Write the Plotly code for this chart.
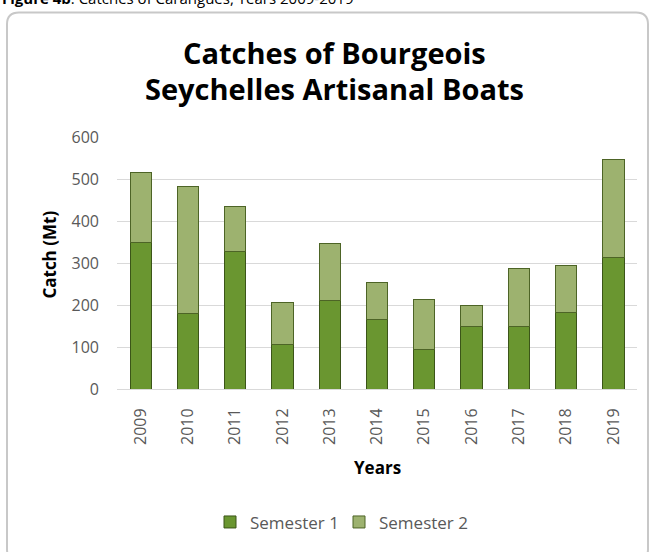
import plotly.graph_objects as go

years = ["2009", "2010", "2011", "2012", "2013", "2014", "2015", "2016", "2017", "2018", "2019"]
semester1 = [348, 180, 328, 106, 211, 165, 94, 149, 149, 182, 314]
totals = [515, 482, 435, 207, 347, 254, 214, 198, 288, 294, 547]
semester2 = [t - s for t, s in zip(totals, semester1)]

title_lines = ["Catches of Bourgeois", "Seychelles Artisanal Boats"]
caption_text = "<b>Figure 4b</b>: Catches of Carangues, Years 2009-2019"
y_title = "Catch (Mt)"
x_title = "Years"

fig = go.Figure()
fig.add_trace(go.Bar(
    x=years, y=semester1, name="Semester 1",
    marker=dict(color="#6a9630", line=dict(color="#3b5518", width=1)),
))
fig.add_trace(go.Bar(
    x=years, y=semester2, name="Semester 2",
    marker=dict(color="#9db26f", line=dict(color="#4d6426", width=1)),
))

L, R, T, B = 117, 16, 137, 160
W, H = 653, 552
pw, ph = W - L - R, H - T - B

def px_x(p):
    return (p - L) / pw

def px_y(p):
    return (H - B - p) / ph

# rounded frame path in paper coordinates
x0, x1, y0, y1, r = 7, 648, 11, 566, 12
pts = [
    ("M", [(x0 + r, y0)]),
    ("L", [(x1 - r, y0)]),
    ("Q", [(x1, y0), (x1, y0 + r)]),
    ("L", [(x1, y1 - r)]),
    ("Q", [(x1, y1), (x1 - r, y1)]),
    ("L", [(x0 + r, y1)]),
    ("Q", [(x0, y1), (x0, y1 - r)]),
    ("L", [(x0, y0 + r)]),
    ("Q", [(x0, y0), (x0 + r, y0)]),
]
path = ""
for cmd, ps in pts:
    path += cmd + " " + " ".join(f"{px_x(a):.5f},{px_y(b):.5f}" for a, b in ps) + " "
path += "Z"

annotations = []
for line, ypx in zip(title_lines, [51, 88]):
    annotations.append(dict(
        text="<b>" + line + "</b>", xref="paper", yref="paper",
        x=px_x(334), y=px_y(ypx), xanchor="center", yanchor="middle",
        showarrow=False, font=dict(size=29, color="black", family="Open Sans")))
annotations += [
    dict(text=caption_text, xref="paper", yref="paper",
         x=px_x(0), y=px_y(-4), xanchor="left", yanchor="middle",
         showarrow=False, font=dict(size=15, color="black", family="Open Sans")),
    dict(text="<b>" + y_title + "</b>", xref="paper", yref="paper",
         x=px_x(50), y=px_y(256), xanchor="center", yanchor="middle", textangle=-90,
         showarrow=False, font=dict(size=17, color="black", family="Open Sans")),
    dict(text="<b>" + x_title + "</b>", xref="paper", yref="paper",
         x=px_x(377), y=px_y(471), xanchor="center", yanchor="middle",
         showarrow=False, font=dict(size=17, color="black", family="Open Sans")),
]

fig.update_layout(
    barmode="stack",
    bargap=0.55,
    width=W, height=H,
    margin=dict(l=L, r=R, t=T, b=B),
    paper_bgcolor="white",
    plot_bgcolor="white",
    font=dict(family="Open Sans", color="#595959", size=16),
    showlegend=True,
    legend=dict(
        orientation="h", x=px_x(210), xanchor="left", y=px_y(527), yanchor="middle",
        font=dict(size=17, color="#595959"), traceorder="normal",
        itemwidth=30, tracegroupgap=0, entrywidth=84, entrywidthmode="pixels",
    ),
    xaxis=dict(
        tickangle=-90, showgrid=False, showline=False,
        ticks="outside", ticklen=12, tickcolor="rgba(0,0,0,0)",
        tickfont=dict(size=16, color="#595959"),
    ),
    yaxis=dict(
        range=[0, 600], dtick=100, showgrid=True, gridcolor="#d9d9d9", gridwidth=1,
        zeroline=True, zerolinecolor="#d9d9d9", zerolinewidth=1,
        ticks="", tickfont=dict(size=16, color="#595959"), ticklabelstandoff=17,
    ),
    annotations=annotations,
    shapes=[
        dict(type="path", xref="paper", yref="paper", path=path,
             line=dict(color="#c8c8c8", width=2), fillcolor="rgba(0,0,0,0)", layer="below"),
    ],
)

fig.write_html("out.html", config={"displayModeBar": False},
               post_script="document.body.style.margin='0';")
